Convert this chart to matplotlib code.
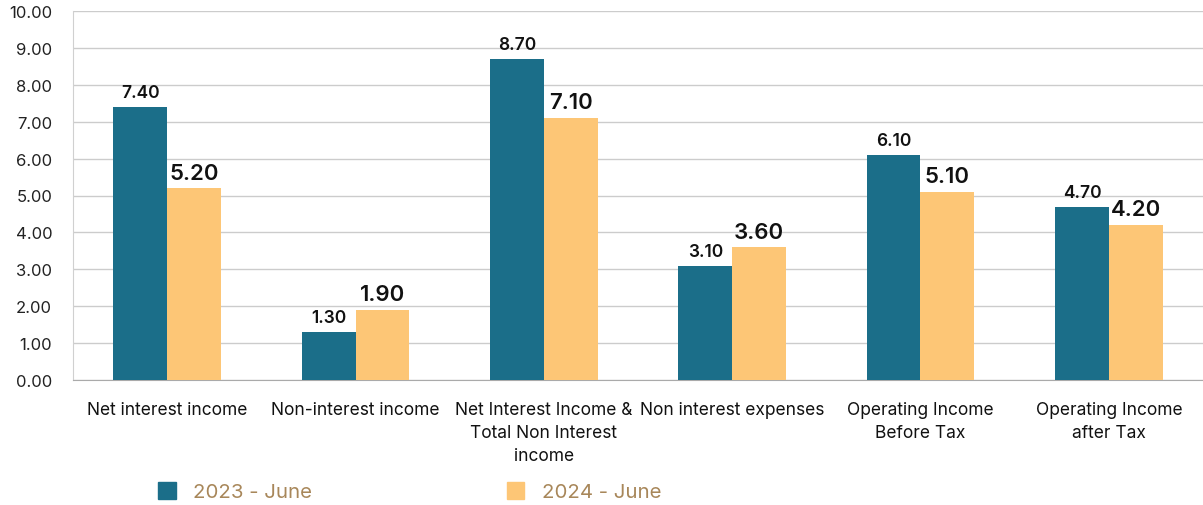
import matplotlib
matplotlib.use('Agg')
import matplotlib.pyplot as plt
import numpy as np
from matplotlib.patches import Patch

categories = ['Net interest income', 'Non-interest income',
              'Net Interest Income &\nTotal Non Interest\nincome',
              'Non interest expenses', 'Operating Income\nBefore Tax',
              'Operating Income\nafter Tax']
june_2023 = [7.40, 1.30, 8.70, 3.10, 6.10, 4.70]
june_2024 = [5.20, 1.90, 7.10, 3.60, 5.10, 4.20]
series_names = ['2023 - June', '2024 - June']

teal = '#1B6E89'
gold = '#FDC676'
legend_text = '#A8875A'

plt.rcParams['font.family'] = ['Inter', 'DejaVu Sans']

fig = plt.figure(figsize=(12.03, 5.06), dpi=100)
ax = fig.add_axes([73 / 1203, 1 - 381 / 506, 1 - 73 / 1203, (381 - 12) / 506])

x = np.arange(len(categories))
w = 0.285
b1 = ax.bar(x - w / 2, june_2023, w, color=teal, zorder=3)
b2 = ax.bar(x + w / 2, june_2024, w, color=gold, zorder=3)

for rect, v in zip(b1, june_2023):
    ax.text(rect.get_x() + rect.get_width() / 2, v + 0.15, f'{v:.2f}',
            ha='center', va='bottom', fontsize=12.5, fontweight='semibold', color='#111111')
for rect, v in zip(b2, june_2024):
    ax.text(rect.get_x() + rect.get_width() / 2, v + 0.15, f'{v:.2f}',
            ha='center', va='bottom', fontsize=16, fontweight='semibold', color='#111111')

ax.set_xlim(-0.5, len(categories) - 0.5)
ax.set_ylim(0, 10)
ax.set_yticks(np.arange(0, 11, 1))
ax.set_yticklabels([f'{t:.2f}' for t in np.arange(0, 11, 1)], fontsize=12, color='#222222')
ax.set_xticks(x)
ax.set_xticklabels(categories, fontsize=12.5, color='#111111', linespacing=1.45)
ax.tick_params(axis='both', length=0)
ax.tick_params(axis='y', pad=15)
ax.tick_params(axis='x', pad=15)
ax.yaxis.grid(True, color='#CCCCCC', linewidth=1, zorder=0)
for s in ['top', 'right']:
    ax.spines[s].set_visible(False)
ax.spines['left'].set_color('#D0D0D0')
ax.spines['bottom'].set_color('#AAAAAA')

handles = [Patch(color=teal), Patch(color=gold)]
leg = fig.legend(handles, series_names, loc='center left',
                 bbox_to_anchor=(140 / 1203, 0.026), ncol=2, frameon=False,
                 fontsize=14.7, handlelength=0.85, handleheight=0.85,
                 columnspacing=9.55, handletextpad=0.85)
for t in leg.get_texts():
    t.set_color(legend_text)

fig.savefig('out.png', dpi=100)
